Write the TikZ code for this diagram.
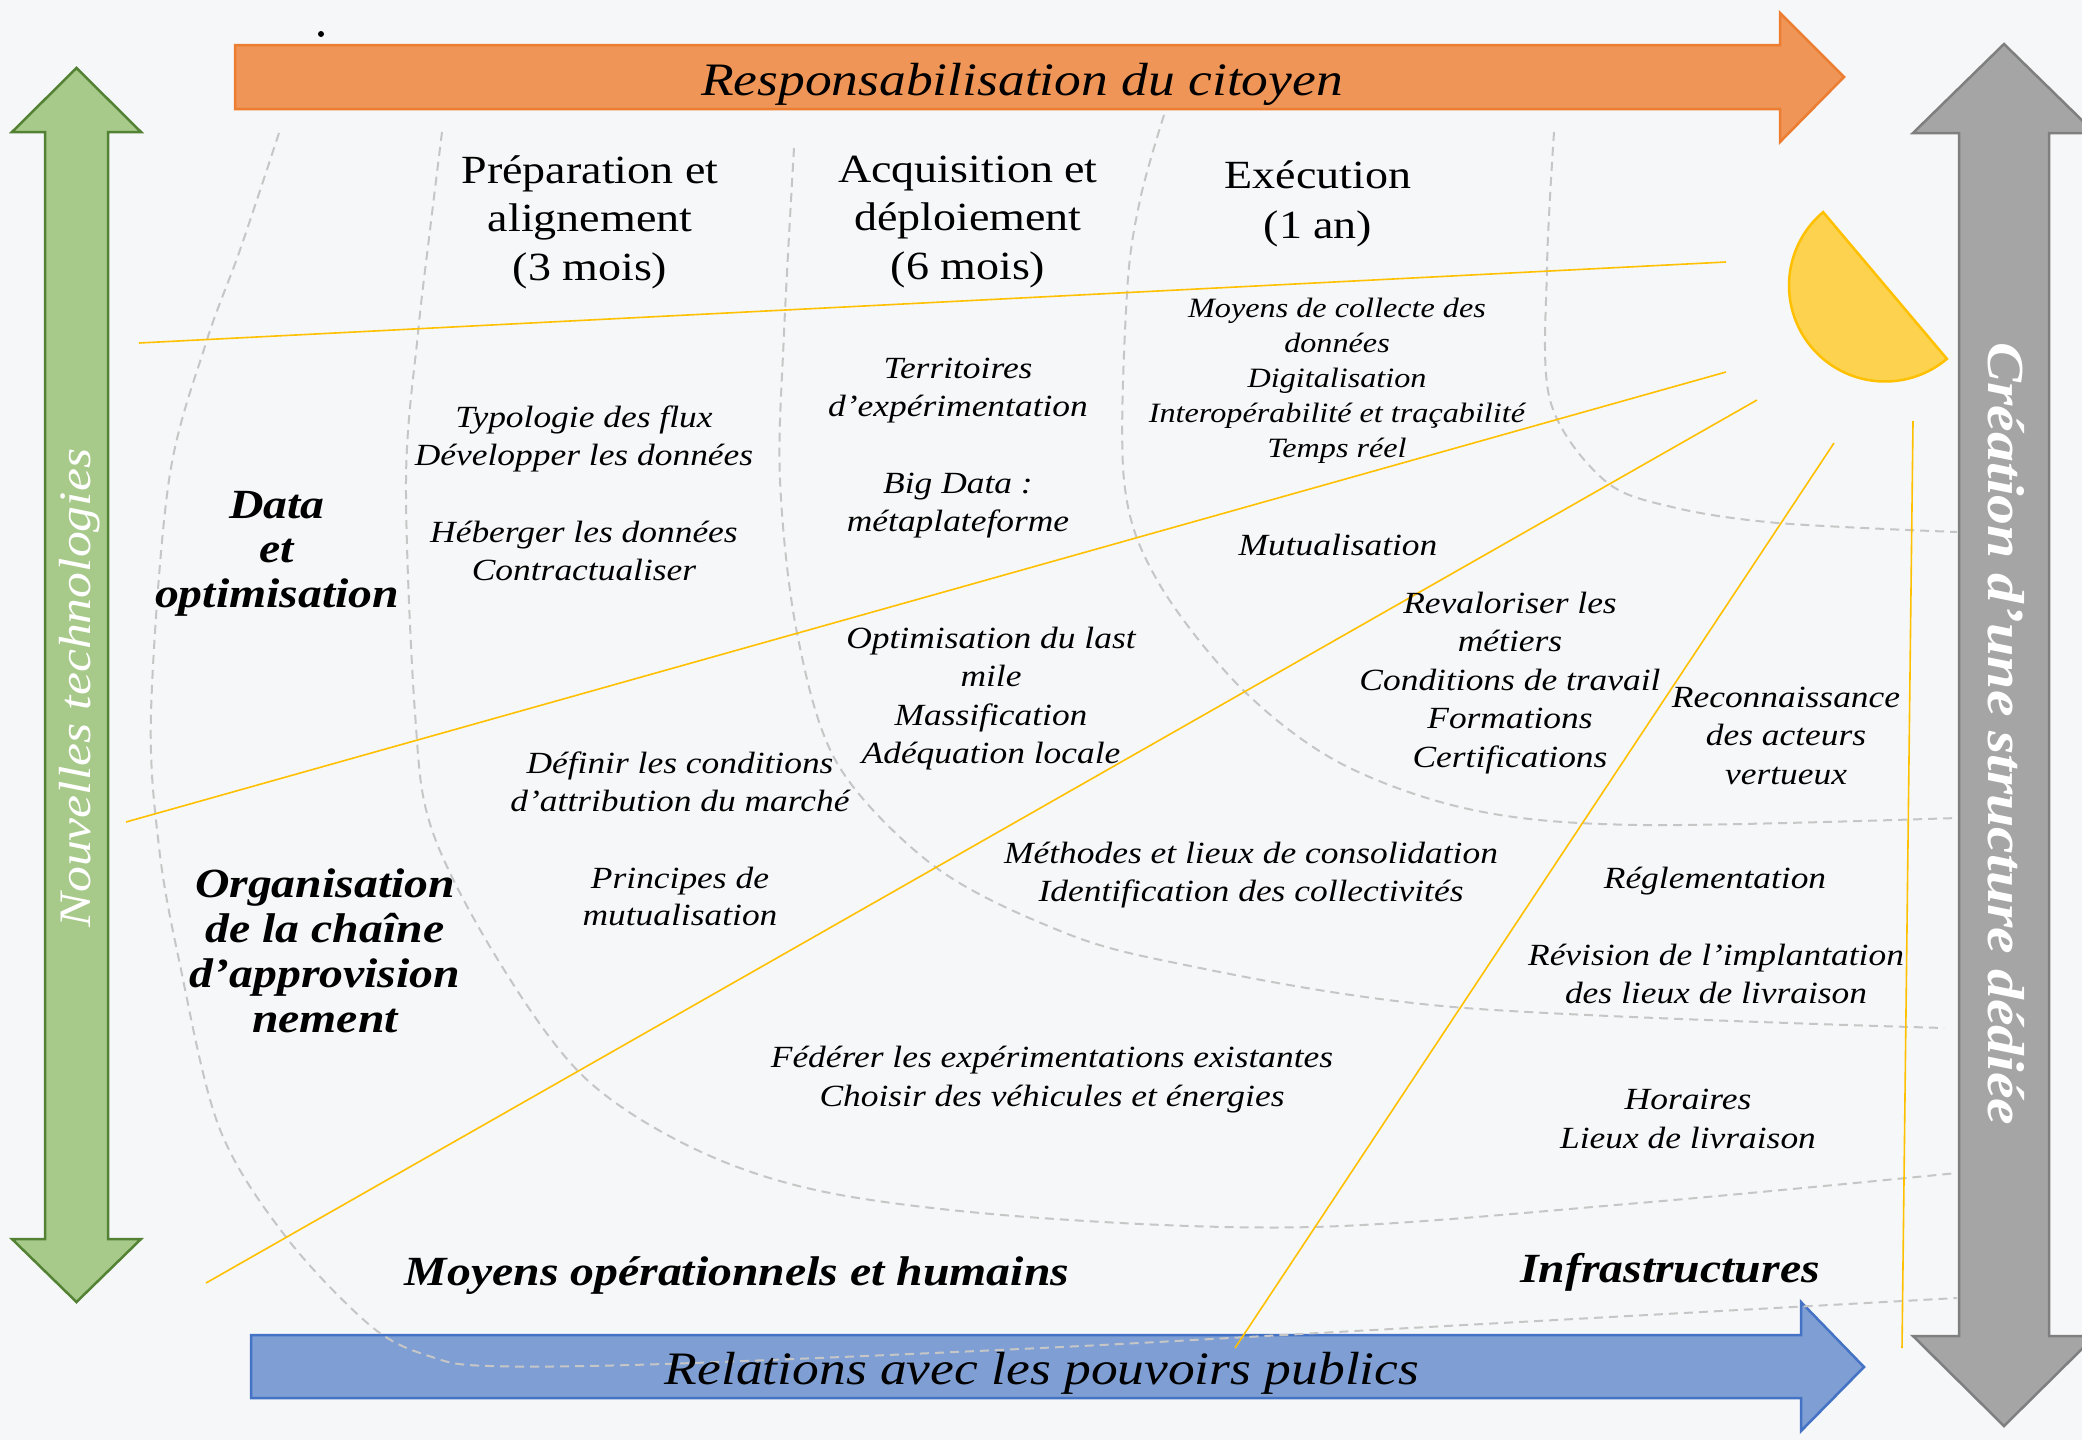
\documentclass[tikz,border=0pt]{standalone}
\usepackage{fontspec}
\setmainfont{Liberation Serif}[FakeStretch=1.15]
\definecolor{bg}{HTML}{F6F7F8}
\definecolor{orfill}{HTML}{EE9557}
\definecolor{oredge}{HTML}{ED7D31}
\definecolor{grfill}{HTML}{A7CA8A}
\definecolor{gredge}{HTML}{548235}
\definecolor{gyfill}{HTML}{A5A5A5}
\definecolor{gyedge}{HTML}{7F7F7F}
\definecolor{blfill}{HTML}{7F9FD4}
\definecolor{bledge}{HTML}{4472C4}
\definecolor{sunfill}{HTML}{FDD24E}
\definecolor{sunedge}{HTML}{FFC000}
\definecolor{rayyellow}{HTML}{FFC000}
\definecolor{guidegray}{HTML}{C6C6C6}
% note: for multi-line nodes the base anchor is the baseline of the LAST line
\tikzset{
  txt/.style={inner sep=0pt, align=center, anchor=base, text=black},
  body/.style={txt, font=\fontsize{30.8}{38.5}\selectfont\itshape},
  bodysmall/.style={txt, font=\fontsize{28}{35}\selectfont\itshape},
  header/.style={txt, font=\fontsize{40}{48.5}\selectfont},
  category/.style={txt, font=\fontsize{41.5}{44.5}\selectfont\bfseries\itshape},
  bandtext/.style={txt, font=\fontsize{46.5}{50}\selectfont\itshape},
  guide/.style={draw=guidegray, line width=2pt, dash pattern=on 9pt off 6pt},
  ray/.style={draw=rayyellow, line width=1.6pt},
  bigarrow/.style={line width=2.5pt, line join=miter},
}
\begin{document}
\begin{tikzpicture}[x=1pt,y=-1pt]
\useasboundingbox (0,0) rectangle (2082,1440);
\fill[bg] (0,0) rectangle (2082,1440);

% big arrows
\filldraw[bigarrow, fill=orfill, draw=oredge]
  (235,45) -- (1780,45) -- (1780,13) -- (1844,77) -- (1780,142) -- (1780,109) -- (235,109) -- cycle;
\filldraw[bigarrow, fill=blfill, draw=bledge]
  (251,1335) -- (1801,1335) -- (1801,1302) -- (1864,1367) -- (1801,1431) -- (1801,1398) -- (251,1398) -- cycle;
\filldraw[bigarrow, fill=grfill, draw=gredge]
  (76.5,68) -- (141,132) -- (108,132) -- (108,1239) -- (141,1239) -- (76.5,1302) -- (12,1239) -- (45,1239) -- (45,132) -- (12,132) -- cycle;
\filldraw[bigarrow, fill=gyfill, draw=gyedge]
  (2004,44) -- (2095,133) -- (2049,133) -- (2049,1336) -- (2095,1336) -- (2004,1426) -- (1913,1336) -- (1959,1336) -- (1959,133) -- (1913,133) -- cycle;

% dashed guide curves
\draw[guide] plot[smooth, tension=0.55] coordinates {(279,133) (240,250) (206,343) (169,480) (151,713) (159,847) (179,960) (219,1127) (286,1237) (372,1327) (432,1357) (490,1366) (664,1364) (1041,1348) (1373,1330) (1957,1298)};
\draw[guide] plot[smooth, tension=0.55] coordinates {(442,132) (430,230) (418,333) (406,480) (415,713) (432,830) (498,960) (584,1077) (697,1150) (830,1193) (1041,1218) (1313,1227) (1639,1203) (1957,1173)};
\draw[guide] plot[smooth, tension=0.55] coordinates {(794,148) (784,333) (780,480) (797,633) (837,763) (930,863) (1041,923) (1161,960) (1453,1007) (1944,1028)};
\draw[guide] plot[smooth, tension=0.55] coordinates {(1164,115) (1140,200) (1127,293) (1124,480) (1157,580) (1240,687) (1340,763) (1473,810) (1639,825) (1957,818)};
\draw[guide] plot[smooth, tension=0.55] coordinates {(1554,132) (1547,267) (1550,400) (1604,480) (1672,507) (1778,523) (1957,532)};

% rays
\coordinate (r1a) at (139,343);  \coordinate (r1b) at (1726,262);
\coordinate (r2a) at (126,822);  \coordinate (r2b) at (1726,372);
\coordinate (r3a) at (206,1283); \coordinate (r3b) at (1757,400);
\coordinate (r4a) at (1235,1348);\coordinate (r4b) at (1834,443);
\coordinate (r5a) at (1902,1348);\coordinate (r5b) at (1913,421);
\draw[ray] (r1a) -- (r1b);
\draw[ray] (r2a) -- (r2b);
\draw[ray] (r3a) -- (r3b);
\draw[ray] (r4a) -- (r4b);
\draw[ray] (r5a) -- (r5b);

% sun
\filldraw[fill=sunfill, draw=sunedge, line width=2.5pt]
  plot[domain=229.85:49.85, samples=90] ({1885+96*cos(\x)},{285.5+96*sin(\x)}) -- cycle;

% stray dot
\fill[black] (321,34) circle[radius=3];

% band texts
\node[bandtext] (resp) at (1022,95) {Responsabilisation du citoyen};
\node[bandtext] (rel) at (1042,1384) {Relations avec les pouvoirs publics};
\node[inner sep=0pt, rotate=90, text=white, font=\fontsize{45}{50}\selectfont\itshape] (nouv) at (80,688) {Nouvelles technologies};
\node[inner sep=0pt, rotate=-90, text=white, font=\fontsize{52}{56}\selectfont\bfseries\itshape] (creat) at (2006,734) {Création d’une structure dédiée};

% headers (positions = baseline of last line)
\node[header] (prep) at (590,280) {Préparation et\\alignement\\(3 mois)};
\node[header] (acq) at (968,279) {Acquisition et\\déploiement\\(6 mois)};
\node[header, font=\fontsize{40}{50}\selectfont] (exe) at (1318,238) {Exécution\\(1 an)};

% categories
\node[category] (data) at (277,607) {Data\\et\\optimisation};
\node[category, font=\fontsize{41.5}{45}\selectfont\bfseries\itshape] (orga) at (325,1032) {Organisation\\de la chaîne\\d’approvision\\nement};
\node[category] (moyens) at (737,1285) {Moyens opérationnels et humains};
\node[category] (infra) at (1670,1282) {Infrastructures};

% body texts
\node[body] (typo) at (584,465.5) {Typologie des flux\\Développer les données};
\node[body] (heb) at (584,580.5) {Héberger les données\\Contractualiser};
\node[body] (terr) at (958,416.5) {Territoires\\d’expérimentation};
\node[body] (big) at (958,531.5) {Big Data :\\métaplateforme};
\node[body] (opt) at (991,763.5) {Optimisation du last\\mile\\Massification\\Adéquation locale};
\node[bodysmall] (coll) at (1337,457) {Moyens de collecte des\\données\\Digitalisation\\Interopérabilité et traçabilité\\Temps réel};
\node[body] (mut) at (1338,555) {Mutualisation};
\node[body] (reval) at (1510,767) {Revaloriser les\\métiers\\Conditions de travail\\Formations\\Certifications};
\node[body] (recon) at (1786,784) {Reconnaissance\\des acteurs\\vertueux};
\node[body] (def) at (680,811.5) {Définir les conditions\\d’attribution du marché};
\node[body, font=\fontsize{30.8}{37}\selectfont\itshape] (princ) at (680,925) {Principes de\\mutualisation};
\node[body] (meth) at (1251,901.5) {Méthodes et lieux de consolidation\\Identification des collectivités};
\node[body] (regl) at (1715,888) {Réglementation};
\node[body] (revis) at (1716,1003.5) {Révision de l’implantation\\des lieux de livraison};
\node[body] (fed) at (1052,1106) {Fédérer les expérimentations existantes\\Choisir des véhicules et énergies};
\node[body] (hor) at (1688,1148) {Horaires\\Lieux de livraison};
\end{tikzpicture}
\end{document}
